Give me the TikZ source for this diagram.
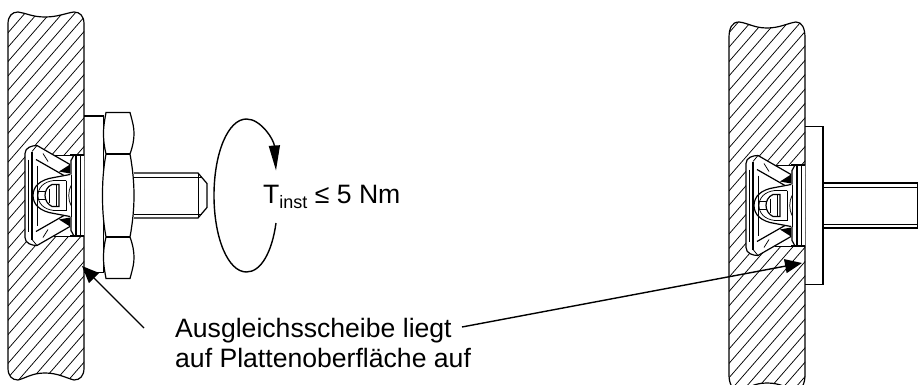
\documentclass[tikz,border=0pt]{standalone}
\usepackage{fontspec}
\setmainfont{Liberation Sans}
\usetikzlibrary{arrows.meta}
\tikzset{
  outline/.style={line width=1.2pt,black},
  thin part/.style={line width=0.75pt,black},
  hatchline/.style={line width=0.75pt,black},
  leader/.style={line width=1.4pt,black,-{Triangle[length=17pt,width=14pt]}},
  turn arrow/.style={line width=1.4pt,black,-{Triangle[length=25pt,width=11pt]}},
  label text/.style={inner sep=0pt,anchor=base west,font=\fontsize{26.6}{30}\selectfont,align=left},
}
\newcommand{\platehatch}[3]{%
  \foreach \c in {#1,#2,...,#3} {\draw[hatchline] (\c,0) -- ({\c-400},460);}%
}
\newcommand{\fastenerbody}{%
  % cavity
  \fill[white] (-59,-42) .. controls (-59,-48) and (-52,-50) .. (-47,-50) -- (-30,-40.5) -- (0,-40.5) -- (0,40.5) -- (-30,40.5) -- (-47,50) .. controls (-52,50) and (-59,48) .. (-59,42) -- cycle;
  \draw[outline] (-47,-50) .. controls (-52,-50) and (-59,-48) .. (-59,-42) -- (-59,42) .. controls (-59,48) and (-52,50) .. (-47,50);
  \draw[outline] (-47,-50) -- (-14,-31);
  \draw[outline] (-47,50) -- (-14,31);
  \draw[thin part] (-30,-40.5) -- (0,-40.5);
  \draw[thin part] (-30,40.5) -- (0,40.5);
  \draw[line width=1.5pt] (-14,-40.5) -- (0,-40.5) (-14,40.5) -- (0,40.5);
  \draw[thin part] (-56,-36) -- (-56,36);
  \draw[outline] (-52,-44) -- (-52,44);
  \draw[thin part] (-47,-30) -- (-47,30);
  \draw[thin part] (-52,-44) -- (-47,-50) (-52,44) -- (-47,50);
  \draw[outline] (-48,-36) -- (-20,-20);
  \draw[outline] (-48,36) -- (-20,20);
  \draw[thin part] (-41,-42) -- (-36,-34) (-41,42) -- (-36,34);
  \fill (-25,-24) -- (-14,-31) -- (-14,-22) -- cycle;
  \fill (-25,24) -- (-14,31) -- (-14,22) -- cycle;
  % U-shaped part
  \draw[outline] (-14,-21) -- (-30,-18) .. controls (-44,-16) and (-51,-9) .. (-51,0) .. controls (-51,9) and (-44,16) .. (-30,18) -- (-14,21);
  \draw[thin part] (-18,-15) -- (-30,-15) .. controls (-40,-14) and (-46,-8) .. (-46,0) .. controls (-46,8) and (-40,14) .. (-30,15) -- (-18,15);
  \draw[thin part] (-46,-4) -- (-39,-4) (-46,4) -- (-39,4);
  % slot
  \draw[outline] (-25,-11) -- (-32,-11) .. controls (-37,-9) and (-39,-4) .. (-39,0) .. controls (-39,5) and (-36,9) .. (-32,11) -- (-25,11) -- cycle;
  \draw[thin part] (-28,-11) -- (-28,11) (-35,-7) -- (-35,7);
  \draw[thin part] (-18,-15) -- (-18,15);
  % head
  \draw[outline] (0,-40.5) -- (-10,-40.5) -- (-13,-35) -- (-13,-21) (-13,21) -- (-13,35) -- (-10,40.5) -- (0,40.5);
  \draw[outline] (-8,-40.5) -- (-8,40.5);
  \draw[thin part] (-4,-40.5) -- (-4,40.5);
  \draw[thin part] (-13,-10) .. controls (-16,-4) and (-16,4) .. (-13,10);
  \draw[thin part] (-13,-21) -- (-13,21);
}
\begin{document}
\begin{tikzpicture}[x=1pt,y=-1pt]
\useasboundingbox (0,0) rectangle (918,385);
\clip (0,0) rectangle (918,385);
% left plate
\begin{scope}
  \clip (8,24) .. controls (8,16) and (12,12) .. (18,12) .. controls (26,13) and (32,17) .. (45,17) .. controls (58,17) and (66,13) .. (74,12) .. controls (80,12) and (84,16) .. (84,24) -- (84,368) .. controls (84,376) and (80,380) .. (74,380) .. controls (66,378) and (58,373) .. (45,373) .. controls (32,373) and (26,378) .. (18,380) .. controls (12,380) and (8,376) .. (8,368) -- cycle;
  \platehatch{24}{36.5}{450}
\end{scope}
\draw[outline] (8,24) .. controls (8,16) and (12,12) .. (18,12) .. controls (26,13) and (32,17) .. (45,17) .. controls (58,17) and (66,13) .. (74,12) .. controls (80,12) and (84,16) .. (84,24) -- (84,368) .. controls (84,376) and (80,380) .. (74,380) .. controls (66,378) and (58,373) .. (45,373) .. controls (32,373) and (26,378) .. (18,380) .. controls (12,380) and (8,376) .. (8,368) -- cycle;
% right plate
\begin{scope}
  \clip (729,38) .. controls (729,28) and (732,22) .. (739,22) .. controls (748,23) and (754,28) .. (767,28) .. controls (780,28) and (788,23) .. (796,22) .. controls (802,22) and (805,28) .. (805,38) -- (805,375) .. controls (805,383) and (802,390) .. (796,392) .. controls (788,388) and (780,383) .. (767,383) .. controls (754,383) and (748,388) .. (739,392) .. controls (732,390) and (729,383) .. (729,375) -- cycle;
  \platehatch{745}{757.5}{1180}
\end{scope}
\draw[outline] (729,38) .. controls (729,28) and (732,22) .. (739,22) .. controls (748,23) and (754,28) .. (767,28) .. controls (780,28) and (788,23) .. (796,22) .. controls (802,22) and (805,28) .. (805,38) -- (805,375) .. controls (805,383) and (802,390) .. (796,392) .. controls (788,388) and (780,383) .. (767,383) .. controls (754,383) and (748,388) .. (739,392) .. controls (732,390) and (729,383) .. (729,375) -- cycle;
% left assembly
\begin{scope}[shift={(84,195.5)}]
  \fastenerbody
  \draw[outline] (0,-79.5) -- (20,-79.5) (0,77) -- (20,77) (19.5,-79.5) -- (19.5,77);
  \draw[outline,fill=white] (22,-83) -- (46,-83) .. controls (49,-72) and (50,-68) .. (50,-62) .. controls (50,-56) and (49,-50) .. (46,-41.5) .. controls (49,-25) and (50,-12) .. (50,0) .. controls (50,12) and (49,25) .. (46,41.5) .. controls (49,50) and (50,56) .. (50,62) .. controls (50,68) and (49,72) .. (46,83) -- (22,83) .. controls (20,72) and (19.5,68) .. (19.5,62) .. controls (19.5,56) and (20,50) .. (22,41.5) .. controls (19,25) and (18.5,12) .. (18.5,0) .. controls (18.5,-12) and (19,-25) .. (22,-41.5) .. controls (20,-50) and (19.5,-56) .. (19.5,-62) .. controls (19.5,-68) and (20,-72) .. (22,-83) -- cycle;
  \draw[outline] (22,-41.5) -- (46,-41.5) (22,41.5) -- (46,41.5);
  \draw[outline] (50,-22.5) -- (114,-22.5) -- (123,-12) -- (123,12) -- (114,22.5) -- (50,22.5);
  \draw[thin part] (50,-18.5) -- (118,-18.5) (50,18.5) -- (118,18.5) (114,-22.5) -- (114,22.5);
\end{scope}
% right assembly
\begin{scope}[shift={(805,205.5)}]
  \fastenerbody
  \draw[outline] (0,-79) -- (18,-79) -- (18,79) -- (0,79);
  \draw[outline] (18,-22.5) -- (113,-22.5) -- (113,22.5) -- (18,22.5);
  \draw[thin part] (18,-18.5) -- (113,-18.5) (18,18.5) -- (113,18.5);
\end{scope}
% torque
\node[label text] (torque) at (263,203) {T{\fontsize{18}{18}\selectfont\raisebox{-5pt}{inst}} ≤ 5 Nm};
\coordinate (torquefrom) at (276,223);
\coordinate (torqueto) at (276,170.5);
\draw[turn arrow] (torquefrom) .. controls (272,252) and (261,272) .. (246.5,272) .. controls (228,272) and (214,238) .. (214,195.5) .. controls (214,153) and (228,119) .. (246.5,119) .. controls (261,119) and (274,140) .. (torqueto);
% note
\node[label text] (note) at (175,367) {Ausgleichsscheibe liegt\\auf Plattenoberfläche auf};
\coordinate (noteleft) at (144,328);
\coordinate (tipleft) at (82,266);
\coordinate (noteright) at (462,327);
\coordinate (tipright) at (802,263);
\draw[leader] (noteleft) -- (tipleft);
\draw[leader] (noteright) -- (tipright);
\end{tikzpicture}
\end{document}
